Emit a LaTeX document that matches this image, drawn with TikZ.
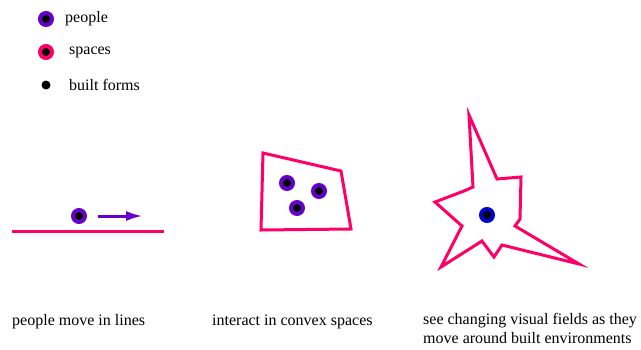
\documentclass[tikz,border=0pt]{standalone}
\usepackage{fontspec}
\setmainfont{Liberation Serif}
\newfontfamily\captionfont{Liberation Serif}
\usetikzlibrary{arrows.meta,positioning}

\definecolor{spacepink}{HTML}{FF0066}
\definecolor{peoplepurple}{HTML}{6600CC}
\definecolor{viewblue}{HTML}{0000CC}

\begin{document}
\begin{tikzpicture}[x=1pt, y=-1pt,
    font=\captionfont\fontsize{16}{19}\selectfont,
    dot/.style={
        circle,
        fill=black,
        inner sep=0pt,
        minimum size=12pt,
        line width=4pt
    },
    person/.style={dot, draw=peoplepurple},
    space/.style={dot, draw=spacepink},
    viewer/.style={dot, draw=viewblue},
    form/.style={circle, fill=black, inner sep=0pt, minimum size=9pt},
    label/.style={anchor=west, inner sep=0pt},
    caption/.style={anchor=west, align=left, inner sep=0pt},
    edge/.style={draw=spacepink, line width=3pt, line join=miter},
    >={Latex[length=17pt, width=10pt]}
]
\useasboundingbox (0,0) rectangle (641,349);

% legend
\node[person] (lgpeople) at (46,19) {};
\node[space] (lgspaces) at (46,52) {};
\node[form] (lgforms) at (46,85) {};
\node[label] (txpeople) at (65,19) {people};
\node[label] (txspaces) at (69,52) {spaces};
\node[label] (txforms) at (69,85) {built forms};

% lines
\coordinate (linea) at (12,231);
\coordinate (lineb) at (164,231);
\draw[edge] (linea) -- (lineb);
\node[person] (mover) at (79,216) {};
\coordinate (arra) at (98,216);
\coordinate (arrb) at (143,216);
\draw[->, draw=peoplepurple, fill=peoplepurple, line width=3pt] (arra) -- (arrb);

% convex space
\draw[edge] (263,153) -- (341,171) -- (351,229) -- (261,230) -- cycle;
\node[person] (pa) at (287,183) {};
\node[person] (pb) at (319,191) {};
\node[person] (pc) at (297,208) {};

% visual field
\draw[edge] (469,115) -- (497,179) -- (521,177) -- (520,219) -- (515,226)
    -- (579,264) -- (502,245) -- (494,257) -- (482,241) -- (441,267)
    -- (462,226) -- (435,202) -- (464,191) -- (473,187) -- cycle;
\node[viewer] (seer) at (487,215) {};

% captions
\node[caption] (caplines) at (12,322) {people move in lines};
\node[caption] (capconvex) at (212,322) {interact in convex spaces};
\node[caption, anchor=north west] (capfields) at (423,313)
    {see changing visual fields as they\\move around built environments};
\end{tikzpicture}
\end{document}
